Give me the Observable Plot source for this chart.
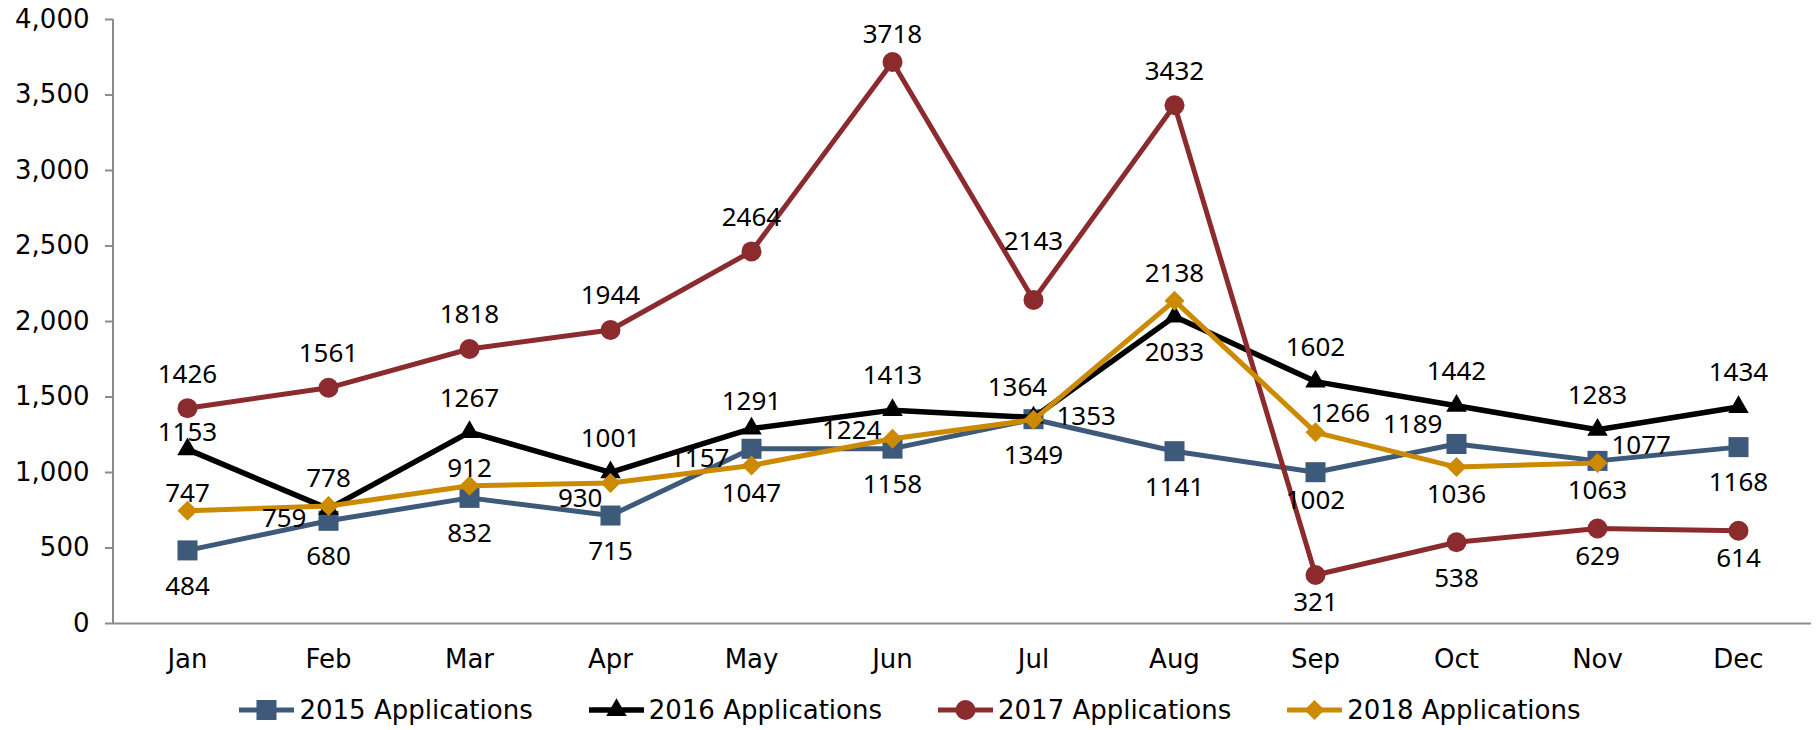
<!DOCTYPE html>
<html>
<head>
<meta charset="utf-8">
<script src="https://cdn.jsdelivr.net/npm/d3@7"></script>
<script src="https://cdn.jsdelivr.net/npm/@observablehq/plot@0.6"></script>
<style>
  html, body { margin: 0; padding: 0; background: #fff; }
  #chart svg { display: block; }
  #legend {
    display: flex; justify-content: center; align-items: center;
    height: 50px; font-family: "DejaVu Sans", Verdana, sans-serif; font-size: 26px; color: #000;
  }
  .item { display: flex; align-items: center; }
  .item + .item { margin-left: 56px; }
  .item svg { margin-right: 5px; display: block; }
</style>
</head>
<body>
<div id="chart"></div>
<div id="legend"></div>
<script>
// ---- data ----
const months = ["Jan","Feb","Mar","Apr","May","Jun","Jul","Aug","Sep","Oct","Nov","Dec"];
const yTicks = [0, 500, 1000, 1500, 2000, 2500, 3000, 3500, 4000];

const seriesNames = ["2015 Applications","2016 Applications","2017 Applications","2018 Applications"];
const apps2015 = [484, 680, 832, 715, 1157, 1158, 1353, 1141, 1002, 1189, 1077, 1168];
const apps2016 = [1153, 759, 1267, 1001, 1291, 1413, 1364, 2033, 1602, 1442, 1283, 1434];
const apps2017 = [1426, 1561, 1818, 1944, 2464, 3718, 2143, 3432, 321, 538, 629, 614];
const apps2018 = [747, 778, 912, 930, 1047, 1224, 1349, 2138, 1266, 1036, 1063];

// data label placement codes (a=above, b=below, l=left, r=right and variants)
const pos2015 = ["b","b","b","b","bl","b","r","b","b1","al","rs","b"];
const pos2016 = ["a2","bl","a","a","a1","a","a1l","b","a","a","a","a"];
const pos2017 = ["a","a","a","a","a","a1","aa","a","b1","b","b1","b1"];
const pos2018 = ["a2","a1","a2","bl2","b1","l","b","a1","ar","b1","b1"];

const seriesColors = ["#3D5A7A", "#000000", "#8B2B2D", "#CC8A00"];

// ---- build ----
const diamond = {
  draw(context, size) {
    const h = Math.sqrt(size / 2);
    context.moveTo(0, -h); context.lineTo(h, 0); context.lineTo(0, h); context.lineTo(-h, 0); context.closePath();
  }
};
const symbols = ["square", "triangle", "circle", diamond];
const symbolR = [11.3, 7.6, 10, 8];
const lineW = [5, 5.5, 5, 5];

const allValues = [apps2015, apps2016, apps2017, apps2018];
const allPos = [pos2015, pos2016, pos2017, pos2018];
const series = seriesNames.map((name, k) => ({
  name, color: seriesColors[k], symbol: symbols[k], r: symbolR[k], w: lineW[k],
  rows: allValues[k].map((v, i) => ({series: name, month: months[i], value: v, pos: allPos[k][i]}))
}));
const allRows = series.flatMap(s => s.rows);

const placement = {
  a:   {dx: 0,   dy: -34, textAnchor: "middle"},
  a1:  {dx: 0,   dy: -27, textAnchor: "middle"},
  a2:  {dx: 0,   dy: -17, textAnchor: "middle"},
  aa:  {dx: 0,   dy: -58, textAnchor: "middle"},
  a1l: {dx: -16, dy: -30, textAnchor: "middle"},
  b:   {dx: 0,   dy: 36,  textAnchor: "middle"},
  b1:  {dx: 0,   dy: 28,  textAnchor: "middle"},
  bl:  {dx: -22, dy: 10,  textAnchor: "end"},
  bl2: {dx: -8,  dy: 16,  textAnchor: "end"},
  l:   {dx: -11, dy: -8,  textAnchor: "end"},
  al:  {dx: -14, dy: -19, textAnchor: "end"},
  ar:  {dx: 25,  dy: -19, textAnchor: "middle"},
  r:   {dx: 23,  dy: -3,  textAnchor: "start"},
  rs:  {dx: 14,  dy: -15, textAnchor: "start"}
};

const marks = [
  Plot.ruleY([0], {stroke: "#8c8c8c", strokeWidth: 2}),
  Plot.axisY({ticks: yTicks, tickFormat: d3.format(","), tickSize: 8, tickPadding: 16,
    stroke: "#8c8c8c", strokeWidth: 2, fontSize: 26, label: null,
    fontFamily: "DejaVu Sans, Verdana, sans-serif"}),
  Plot.axisX({tickSize: 0, tickPadding: 26, fontSize: 26, label: null,
    fontFamily: "DejaVu Sans, Verdana, sans-serif"})
];
for (const s of series) {
  marks.push(Plot.line(s.rows, {x: "month", y: "value", stroke: s.color, strokeWidth: s.w, strokeLinejoin: "round"}));
  marks.push(Plot.dot(s.rows, {x: "month", y: "value", fill: s.color, stroke: "none", symbol: s.symbol, r: s.r}));
}
for (const [key, opt] of Object.entries(placement)) {
  marks.push(Plot.text(allRows.filter(d => d.pos === key), {
    x: "month", y: "value", text: d => String(d.value), fill: "#000",
    fontSize: 26, fontFamily: "Noto Sans, Open Sans, sans-serif", ...opt
  }));
}

const chart = Plot.plot({
  width: 1820, height: 685,
  marginLeft: 113, marginRight: 9, marginTop: 19, marginBottom: 62,
  style: {background: "#fff", color: "#000"},
  x: {type: "point", domain: months, padding: 0.5, axis: null},
  y: {domain: [0, 4000], axis: null},
  marks
});

// left axis line
const yr = chart.scale("y").range;
d3.select(chart).append("line")
  .attr("x1", 113).attr("x2", 113)
  .attr("y1", Math.min(...yr)).attr("y2", Math.max(...yr) + 1)
  .attr("stroke", "#8c8c8c").attr("stroke-width", 2);

document.getElementById("chart").appendChild(chart);

// legend
const legend = d3.select("#legend");
for (const s of series) {
  const item = legend.append("div").attr("class", "item");
  const svg = item.append("svg").attr("width", 55).attr("height", 26);
  svg.append("line").attr("x1", 0).attr("x2", 55).attr("y1", 13).attr("y2", 13)
    .attr("stroke", s.color).attr("stroke-width", s.w);
  const sym = typeof s.symbol === "string"
    ? {square: d3.symbolSquare, triangle: d3.symbolTriangle, circle: d3.symbolCircle}[s.symbol]
    : s.symbol;
  svg.append("path").attr("transform", "translate(27.5,13)")
    .attr("d", d3.symbol(sym, Math.PI * s.r * s.r)()).attr("fill", s.color);
  item.append("span").text(s.name);
}
</script>
</body>
</html>
